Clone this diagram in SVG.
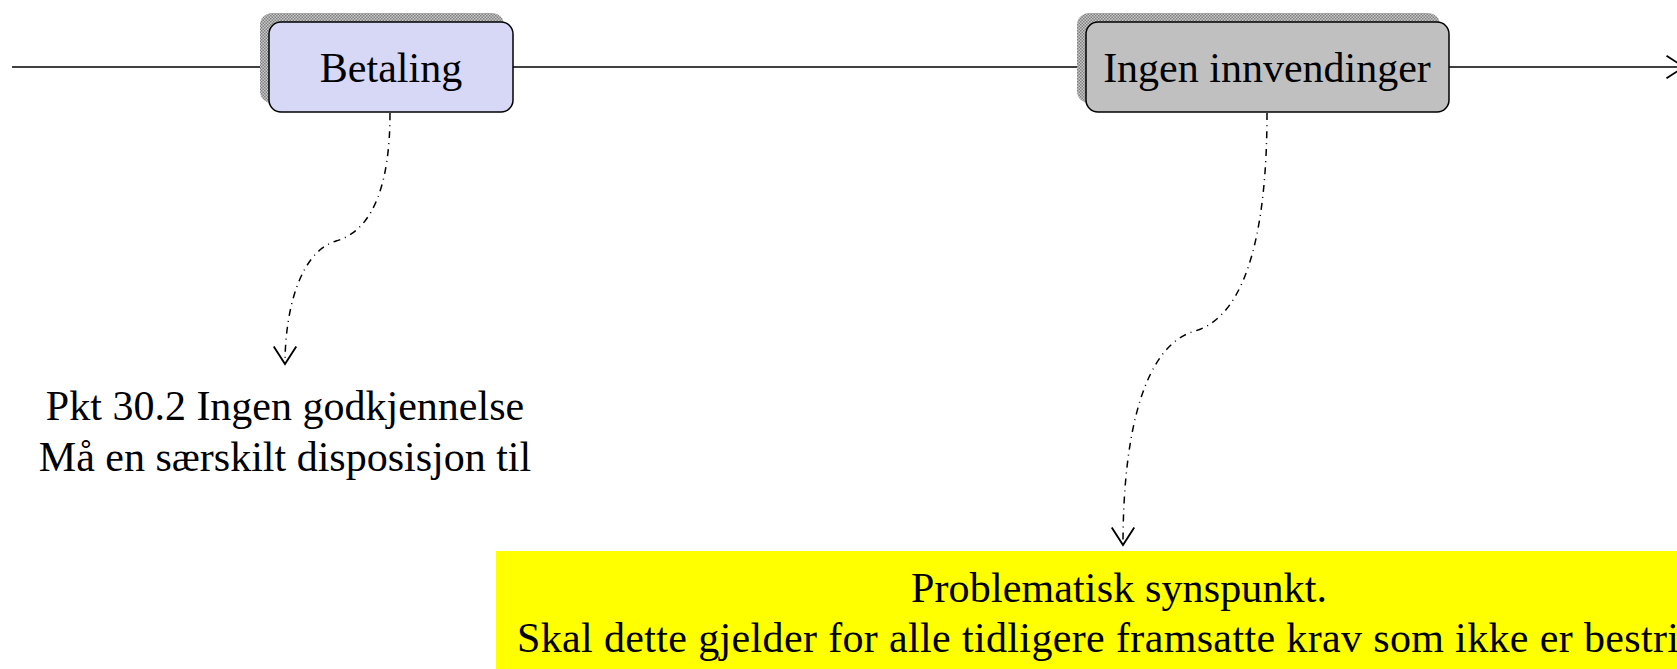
<svg xmlns="http://www.w3.org/2000/svg" width="1677" height="669" viewBox="0 0 1677 669">
<style>
.box{stroke:#000;stroke-width:1.5}
.shadow{fill:url(#hatch)}
.lbl{font-family:"Liberation Serif","Times New Roman",serif;font-size:42px;fill:#000}
.flow{fill:none;stroke:#000;stroke-width:1.5}
.note{fill:none;stroke:#000;stroke-width:1.5;stroke-dasharray:7 5 1 5}
</style>
<defs>
<pattern id="hatch" width="3" height="3" patternUnits="userSpaceOnUse">
<rect width="3" height="3" fill="#c8c8c8"/>
<rect width="1.5" height="1.5" fill="#808080"/>
<rect x="1.5" y="1.5" width="1.5" height="1.5" fill="#808080"/>
</pattern>
<marker id="open" markerUnits="userSpaceOnUse" markerWidth="30" markerHeight="30" viewBox="-16 -12 20 24" refX="0" refY="0" orient="auto">
<path d="M-14,-9 L0,0 L-14,9" fill="none" stroke="#000" stroke-width="1.5"/>
</marker>
</defs>
<g id="connectors">
<line class="flow" x1="12" y1="67" x2="269" y2="67"/>
<line class="flow" x1="513" y1="67" x2="1086" y2="67"/>
<line class="flow" x1="1449" y1="67" x2="1684" y2="67" marker-end="url(#open)"/>
<path class="note" d="M390,113 C390,180 375,230 336,241 C300,252 285,310 285,364" marker-end="url(#open)"/>
<path class="note" d="M1267,113 C1267,220 1250,315 1195,331 C1145,345 1123,430 1123,545" marker-end="url(#open)"/>
</g>
<g id="node-betaling">
<rect class="shadow" x="260" y="13" width="244" height="90" rx="12"/>
<rect class="box" x="269" y="22" width="244" height="90" rx="12" fill="#d7d8f5"/>
<text class="lbl" x="391" y="82" text-anchor="middle">Betaling</text>
</g>
<g id="node-ingen">
<rect class="shadow" x="1077" y="13" width="363" height="90" rx="12"/>
<rect class="box" x="1086" y="22" width="363" height="90" rx="12" fill="#c0c0c0"/>
<text class="lbl" x="1267" y="82" text-anchor="middle">Ingen innvendinger</text>
</g>
<g id="note-pkt">
<text class="lbl" x="285" y="420" text-anchor="middle">Pkt 30.2 Ingen godkjennelse</text>
<text class="lbl" x="285" y="471" text-anchor="middle">Må en særskilt disposisjon til</text>
</g>
<g id="note-problem">
<rect x="496" y="551" width="1200" height="130" fill="#ffff00"/>
<text class="lbl" x="1119" y="602" text-anchor="middle" textLength="416" lengthAdjust="spacing">Problematisk synspunkt.</text>
<text class="lbl" x="517" y="652" textLength="1162" lengthAdjust="spacing">Skal dette gjelder for alle tidligere framsatte krav som ikke er bestri</text>
</g>
</svg>
